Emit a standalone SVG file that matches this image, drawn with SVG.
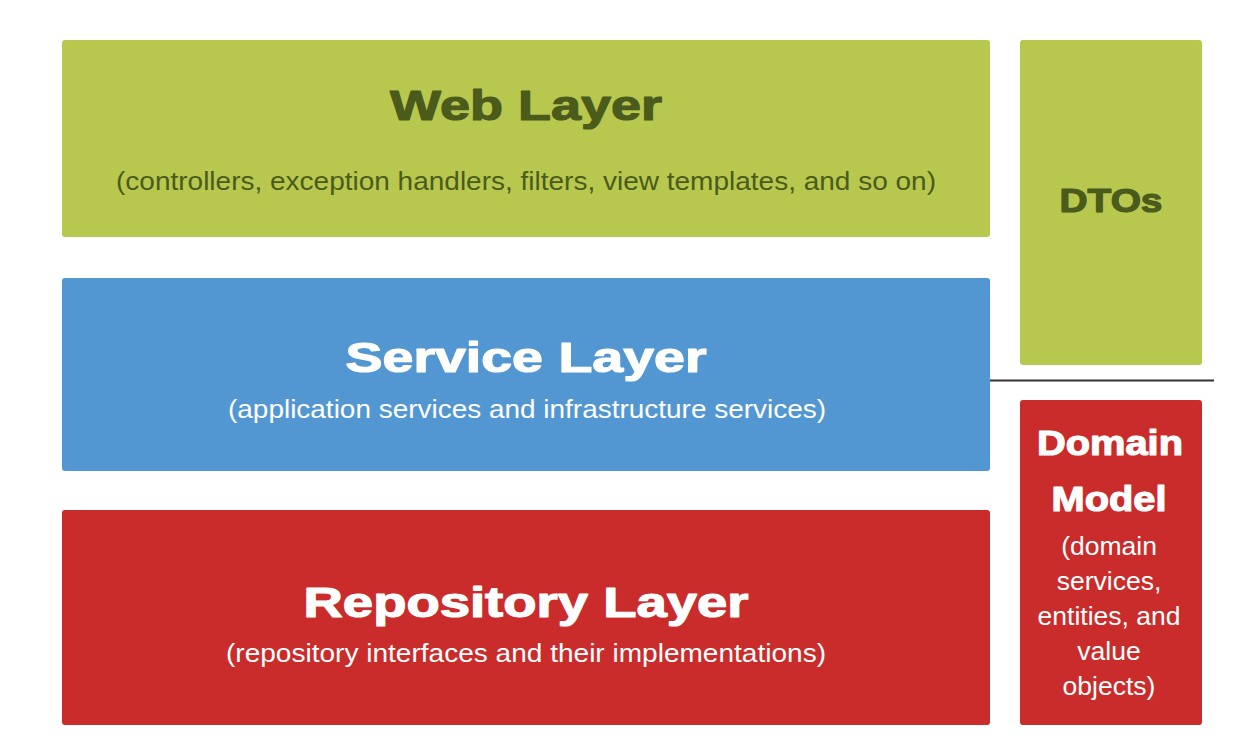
<svg xmlns="http://www.w3.org/2000/svg" width="1242" height="754" viewBox="0 0 1242 754">
<style>
.title{font-family:"Liberation Sans",Arial,sans-serif;font-weight:bold;font-size:42px;text-anchor:middle;stroke-width:1.2px;stroke-linejoin:round}
.sub{font-family:"Liberation Sans",Arial,sans-serif;font-size:26px;text-anchor:middle}
.dsub{font-size:26.5px}
.green{fill:#b8c84e}
.blue{fill:#5297d2}
.red{fill:#c92c2a}
.dk{fill:#4b5b1c;stroke:#4b5b1c}
.dks{fill:#4b5b1c}
.wt{fill:#ffffff;stroke:#ffffff}
.ws{fill:#ffffff}
</style>
<rect width="1242" height="754" fill="#ffffff"/>
<g id="web-layer">
<rect class="green" x="62" y="40" width="928" height="197" rx="3"/>
<text class="title dk" x="526" y="120" textLength="272" lengthAdjust="spacingAndGlyphs">Web Layer</text>
<text class="sub dks" x="526" y="190" textLength="820" lengthAdjust="spacingAndGlyphs">(controllers, exception handlers, filters, view templates, and so on)</text>
</g>
<g id="service-layer">
<rect class="blue" x="62" y="278" width="928" height="193" rx="3"/>
<text class="title wt" x="526" y="372" textLength="361" lengthAdjust="spacingAndGlyphs">Service Layer</text>
<text class="sub ws" x="527" y="418" textLength="598" lengthAdjust="spacingAndGlyphs">(application services and infrastructure services)</text>
</g>
<g id="repository-layer">
<rect class="red" x="62" y="510" width="928" height="215" rx="3"/>
<text class="title wt" x="526" y="617" textLength="445" lengthAdjust="spacingAndGlyphs">Repository Layer</text>
<text class="sub ws" x="526" y="662" textLength="600" lengthAdjust="spacingAndGlyphs">(repository interfaces and their implementations)</text>
</g>
<g id="dtos">
<rect class="green" x="1020" y="40" width="182" height="325" rx="3"/>
<text class="title dk" x="1111" y="212" style="font-size:33px" textLength="103" lengthAdjust="spacingAndGlyphs">DTOs</text>
</g>
<g id="domain-model">
<rect class="red" x="1020" y="400" width="182" height="325" rx="3"/>
<text class="title wt" x="1110" y="455" style="font-size:35px" textLength="146" lengthAdjust="spacingAndGlyphs">Domain</text>
<text class="title wt" x="1109" y="511" style="font-size:35px" textLength="115" lengthAdjust="spacingAndGlyphs">Model</text>
<text class="sub dsub ws" x="1109" y="555">(domain</text>
<text class="sub dsub ws" x="1109" y="590">services,</text>
<text class="sub dsub ws" x="1109" y="625">entities, and</text>
<text class="sub dsub ws" x="1109" y="660">value</text>
<text class="sub dsub ws" x="1109" y="695">objects)</text>
</g>
<g id="connectors">
<line x1="990" y1="380.5" x2="1214" y2="380.5" stroke="#333333" stroke-width="2"/>
</g>
</svg>
